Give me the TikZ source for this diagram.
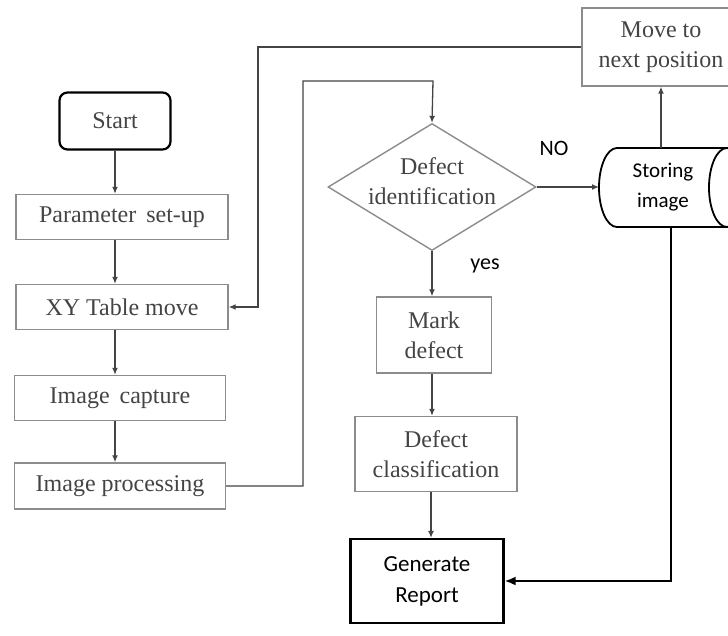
\documentclass[tikz,border=0pt]{standalone}
\usepackage{fontspec}
\setmainfont{Liberation Serif}
\newfontfamily\calibri{Carlito}
\usetikzlibrary{arrows.meta,shapes.geometric}
\definecolor{boxgray}{HTML}{8C8C8C}
\definecolor{txtgray}{HTML}{444444}
\tikzset{
  procbox/.style={draw=boxgray, line width=1.4pt, text=txtgray, align=center,
    font=\fontsize{24}{30}\selectfont, inner sep=0pt},
  flowline/.style={draw=txtgray, line width=1.3pt},
  blackbox/.style={draw=black, line width=2.2pt, align=center, inner sep=0pt},
  tip/.style={-{Latex[length=7pt,width=6pt]}},
  bigtip/.style={-{Latex[length=11pt,width=9pt]}}
}
\begin{document}
\begin{tikzpicture}[x=1pt, y=-1pt]
\useasboundingbox (0,0) rectangle (728,636);
% left column
\node[blackbox, rounded corners=8pt, minimum width=111pt, minimum height=57pt,
  text=txtgray, font=\fontsize{24}{27}\selectfont] (start) at (115,121) {Start};
\node[procbox, minimum width=212pt, minimum height=45pt] (param) at (122,217) {Parameter\, set-up};
\node[procbox, minimum width=212pt, minimum height=45pt] (xymove) at (122,307) {XY Table move};
\node[procbox, minimum width=211pt, minimum height=45pt] (capture) at (120,398) {Image\, capture};
\node[procbox, minimum width=211pt, minimum height=46pt] (process) at (120,486) {Image processing};
% middle column
\node[procbox, diamond, aspect=1.64, minimum width=208pt, minimum height=127pt] (ident) at (432,187) {};
\node[text=txtgray, align=center, font=\fontsize{24}{30}\selectfont] at (432,181) {Defect\\identification};
\node[procbox, minimum width=115pt, minimum height=76pt] (mark) at (434,335) {Mark\\defect};
\node[procbox, minimum width=162pt, minimum height=75pt] (classif) at (436,454) {Defect\\classification};
\node[blackbox, minimum width=153pt, minimum height=84pt, font=\calibri\fontsize{23}{31}\selectfont]
  (report) at (427,581) {Generate\\Report};
% right column
\node[procbox, minimum width=158pt, minimum height=78pt] (nextpos) at (661,47) {Move to\\next position};
\node[font=\calibri\fontsize{21}{30}\selectfont, align=center] (store) at (663,187) {Storing\\image};
\draw[black, line width=1.8pt] (727,148) -- (617,148)
  arc[start angle=270, end angle=90, x radius=18, y radius=39.5] -- (727,227);
\draw[black, line width=1.8pt] (727,187.5) ellipse[x radius=18, y radius=39.5];
\coordinate (storeleft) at (599,187);
\coordinate (storetop) at (661,148);
\coordinate (storebottom) at (671,227);
% labels
\node[font=\calibri\fontsize{22}{24}\selectfont] at (554,148) {NO};
\node[font=\calibri\fontsize{22}{24}\selectfont] at (485,266) {yes};
% connectors
\draw[flowline, tip] (start) -- (param.north -| start);
\draw[flowline, tip] (param.south -| start) -- (xymove.north -| start);
\draw[flowline, tip] (xymove.south -| start) -- (capture.north -| start);
\draw[flowline, tip] (capture.south -| start) -- (process.north -| start);
\draw[flowline, tip] (process.east) -- (303,486) |- (433,81) -- (ident.north);
\draw[flowline, tip] (nextpos.west) -| (258,307) -- (xymove.east);
\draw[flowline, tip] (ident.east) -- (storeleft);
\draw[flowline, tip] (storetop) -- (nextpos.south -| storetop);
\draw[flowline, tip] (ident.south) -- (mark.north -| ident.south);
\draw[flowline, tip] (mark.south -| ident.south) -- (classif.north -| ident.south);
\draw[flowline, tip] (classif.south -| 431,0) -- (report.north -| 431,0);
\draw[black, line width=2pt, bigtip] (storebottom) |- (report.east);
\end{tikzpicture}
\end{document}
